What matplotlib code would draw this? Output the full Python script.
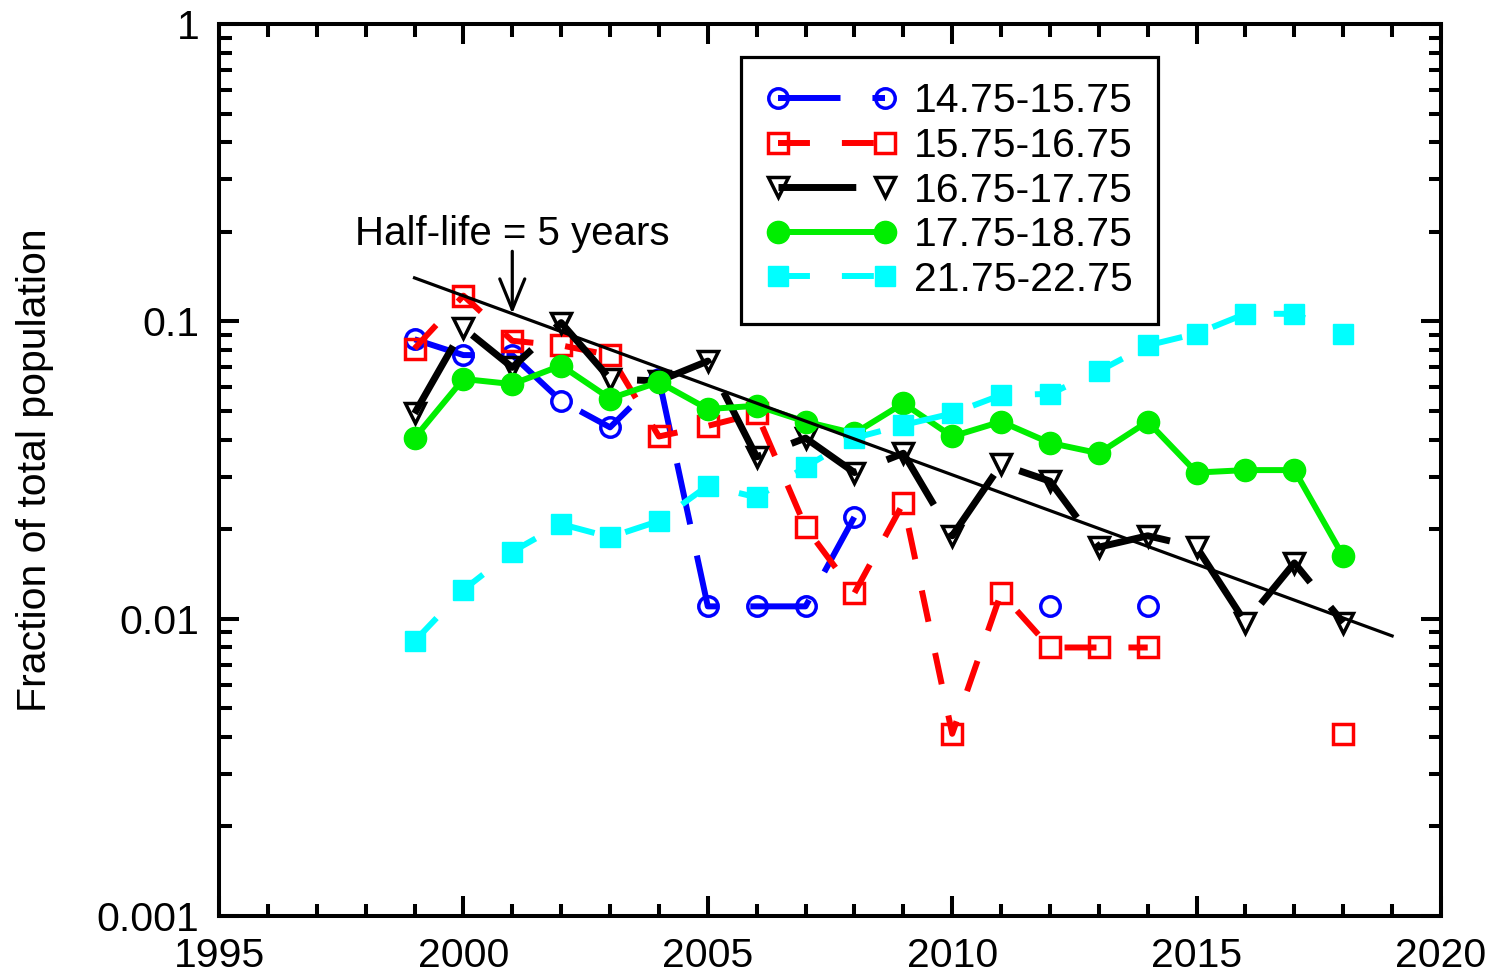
import matplotlib
matplotlib.use("Agg")
import matplotlib.pyplot as plt
import matplotlib.ticker as mticker
import numpy as np

plt.rcParams['font.family'] = ['Liberation Sans', 'DejaVu Sans']
plt.rcParams['lines.scale_dashes'] = False

nan = np.nan
years = np.arange(1999, 2019)

# values, nan = no point that year
blue = [0.087, 0.077, 0.077, 0.054, 0.044, 0.064, 0.011, 0.011, 0.011, 0.022,
        nan, nan, nan, 0.011, nan, 0.011, nan, nan, nan, nan]
red = [0.081, 0.122, 0.086, 0.083, 0.077, 0.041, 0.0445, 0.049, 0.0203, 0.0122,
       0.0245, 0.0041, 0.0122, 0.0080, 0.0080, 0.0080, nan, nan, nan, 0.0041]
black = [0.049, 0.095, 0.070, 0.099, 0.064, 0.063, 0.0735, 0.035, 0.0405, 0.031,
         0.036, 0.019, 0.033, 0.029, 0.0174, 0.019, 0.0174, 0.0097, 0.0154, 0.0097]
green = [0.0405, 0.064, 0.0615, 0.071, 0.055, 0.0625, 0.0507, 0.052, 0.046, 0.042,
         0.053, 0.041, 0.046, 0.039, 0.036, 0.046, 0.031, 0.0316, 0.0316, 0.0162]
cyan = [0.0084, 0.0125, 0.0168, 0.0208, 0.0188, 0.0213, 0.028, 0.0256, 0.0324, 0.0405,
        0.0448, 0.049, 0.0565, 0.057, 0.068, 0.083, 0.091, 0.106, 0.106, 0.0906]

labels = ['14.75-15.75', '15.75-16.75', '16.75-17.75', '17.75-18.75', '21.75-22.75']

# half-life line
fit_years = [1999, 2019]
fit_start = 0.14
half_life = 5.0

fs = 29.5
fig = plt.figure(figsize=(14.91, 9.73), dpi=100)
ax = fig.add_axes([219/1491, 1-916/973, 1222/1491, 892/973])

ax.plot(years, blue, color='#0000ff', lw=4.3, dashes=(45, 23), marker='o', ms=14,
        mfc='none', mec='#0000ff', mew=2.5, label=labels[0])
ax.plot(years, red, color='#ff0000', lw=4.3, dashes=(23, 23), marker='s', ms=14,
        mfc='none', mec='#ff0000', mew=2.5, label=labels[1])
ax.plot(years, black, color='black', lw=5, dashes=(56, 23), marker='v', ms=14,
        mfc='none', mec='black', mew=2.5, label=labels[2])
ax.plot(years, green, color='#00ee00', lw=4.3, ls='-', marker='o', ms=16,
        mfc='#00ee00', mec='#00ee00', label=labels[3])
ax.plot(years, cyan, color='#00ffff', lw=4.3, dashes=(23, 23), marker='s', ms=15,
        mfc='#00ffff', mec='#00ffff', label=labels[4])

fit_vals = [fit_start * 2 ** (-(y - fit_years[0]) / half_life) for y in fit_years]
ax.plot(fit_years, fit_vals, color='black', lw=2.3)

arrow_tip = fit_start * 2 ** (-(2001 - fit_years[0]) / half_life)
ax.annotate('', xy=(2001, arrow_tip), xytext=(2001, 0.172),
            arrowprops=dict(arrowstyle='->, head_length=1.1, head_width=0.45',
                            color='black', lw=2.3, shrinkA=0, shrinkB=0,
                            mutation_scale=20))
ax.text(2001, 0.197, 'Half-life = 5 years', fontsize=29, ha='center', va='center')

ax.set_yscale('log')
ax.set_xlim(1995, 2020)
ax.set_ylim(0.001, 1)
ax.xaxis.set_major_locator(mticker.MultipleLocator(5))
ax.xaxis.set_minor_locator(mticker.MultipleLocator(1))
ax.yaxis.set_major_locator(mticker.FixedLocator([0.001, 0.01, 0.1, 1]))
ax.yaxis.set_major_formatter(mticker.FixedFormatter(['0.001', '0.01', '0.1', '1']))
ax.yaxis.set_minor_locator(mticker.LogLocator(base=10, subs=np.arange(2, 10)))
ax.yaxis.set_minor_formatter(mticker.NullFormatter())

ax.tick_params(which='both', direction='in', top=True, right=True, width=2.9,
               labelsize=fs)
ax.tick_params(which='major', length=14.5)
ax.tick_params(which='minor', length=9)
ax.tick_params(axis='x', which='major', pad=15)
ax.tick_params(axis='y', which='major', pad=14)
for s in ax.spines.values():
    s.set_linewidth(2.9)

ax.set_ylabel('Fraction of total population', fontsize=fs, labelpad=31)

leg = ax.legend(loc='upper left', bbox_to_anchor=(0.427, 0.963), borderaxespad=0,
                fontsize=fs, numpoints=2, handlelength=3.2, handletextpad=0.4,
                labelspacing=0.16, borderpad=0.62, fancybox=False, framealpha=1,
                edgecolor='black')
leg.get_frame().set_linewidth(2.3)

fig.savefig('out.png', dpi=100)
